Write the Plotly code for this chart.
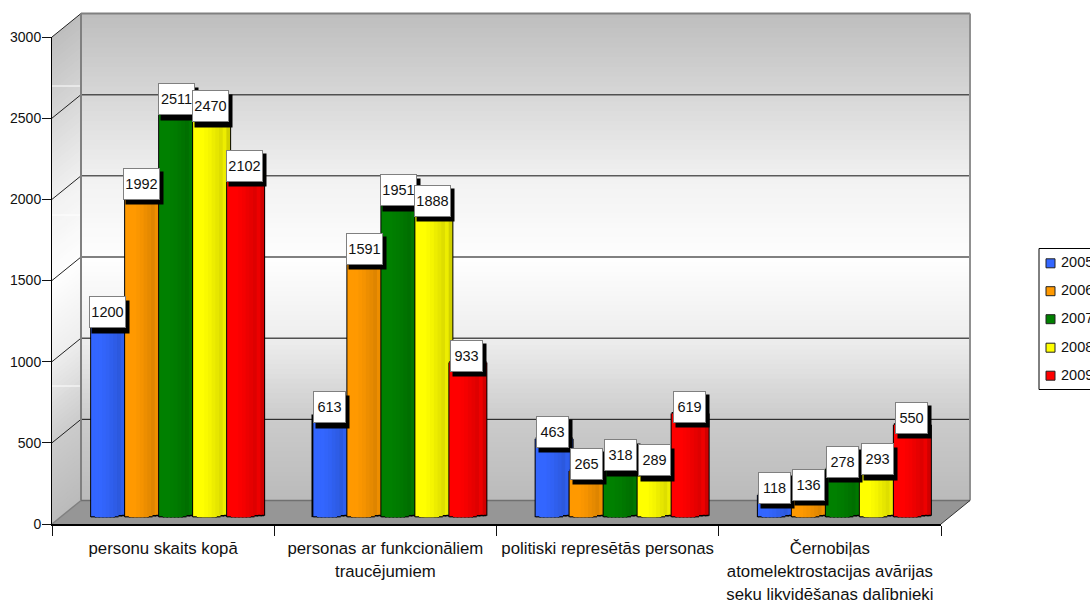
import plotly.graph_objects as go

categories = ["personu skaits kopā",
              "personas ar funkcionāliem<br>traucējumiem",
              "politiski represētās personas",
              "Černobiļas<br>atomelektrostacijas avārijas<br>seku likvidēšanas dalībnieki"]
years = ["2005", "2006", "2007", "2008", "2009"]
v2005 = [1200, 613, 463, 118]
v2006 = [1992, 1591, 265, 136]
v2007 = [2511, 1951, 318, 278]
v2008 = [2470, 1888, 289, 293]
v2009 = [2102, 933, 619, 550]
series = [v2005, v2006, v2007, v2008, v2009]
colors = [(51, 102, 255), (255, 153, 0), (0, 128, 0), (255, 255, 0), (255, 0, 0)]
y_ticks = [0, 500, 1000, 1500, 2000, 2500, 3000]
grid_colors = {500: ("#111111", 1), 1000: ("#505050", 1.5), 1500: ("#808080", 2),
               2000: ("#111111", 1), 2500: ("#505050", 1.5), 3000: ("#808080", 2)}

W, H = 1090, 603
X0, X1, Y0, Y1 = 52, 941, 524, 37      # front plane
DX, DY = 29, -23.5                      # depth of the box
BX, BY = 14.5, -6.5                     # plane of the columns
PX = (Y0 - Y1) / 3000                   # pixels per unit
CAT = (X1 - X0) / 4                     # pixels per category
BAR = 37.0                              # column width, pixels
PITCH = 34.0                            # distance between columns, pixels


def px(x):
    return x / W


def py(y):
    return 1 - y / H


def ramp(t):
    stops = [(0, 190), (0.17, 216), (0.34, 242), (0.5, 254), (0.66, 238), (0.83, 203), (1, 186)]
    for (a, ca), (b, cb) in zip(stops, stops[1:]):
        if t <= b:
            v = round(ca + (cb - ca) * (t - a) / (b - a))
            return f"rgb({v},{v},{v})"
    return "rgb(186,186,186)"


shapes = []


def path(points, **kw):
    d = "M " + " L ".join(f"{px(a):.5f},{py(b):.5f}" for a, b in points) + " Z"
    shapes.append(dict(type="path", path=d, xref="paper", yref="paper", layer="below", **kw))


def seg(a, b, c, d, color, width):
    shapes.append(dict(type="line", x0=px(a), y0=py(b), x1=px(c), y1=py(d), xref="paper", yref="paper",
                       layer="below", line=dict(color=color, width=width)))


# gradient walls
BANDS = 100
for i in range(BANDS):
    t0, t1 = i / BANDS, (i + 1.4) / BANDS
    c = ramp(i / BANDS)
    top, bot = Y1 + DY + t0 * (Y0 - Y1), Y1 + DY + min(t1, 1) * (Y0 - Y1)
    path([(X0 + DX, top), (X1 + DX, top), (X1 + DX, bot), (X0 + DX, bot)], fillcolor=c, line=dict(width=0))
    path([(X0, Y1 + t0 * (Y0 - Y1)), (X0 + DX, top), (X0 + DX, bot), (X0, Y1 + min(t1, 1) * (Y0 - Y1))],
         fillcolor=c, line=dict(width=0))
# floor
path([(X0, Y0), (X1, Y0), (X1 + DX, Y0 + DY), (X0 + DX, Y0 + DY)], fillcolor="#969696", line=dict(width=0))
# grid
for t in y_ticks[1:]:
    yy = Y0 - t * PX
    col, wid = grid_colors[t]
    seg(X0, yy, X0 + DX, yy + DY, "#222222", 1)
    seg(X0 + DX, yy + DY, X1 + DX, yy + DY, col, wid)
for yy in (86, 215, 386):
    seg(X0, yy, X0 + DX, yy, "#ffffff", 1)
# box edges
seg(X1 + DX, Y1 + DY, X1 + DX, Y0 + DY, "#909090", 2)
seg(X0 + DX, Y1 + DY, X0 + DX, Y0 + DY, "#808080", 2)
seg(X0 + DX, Y0 + DY, X1 + DX, Y0 + DY, "#707070", 1.5)
seg(X0, Y0, X0 + DX, Y0 + DY, "#808080", 1.5)
seg(X1, Y0, X1 + DX, Y0 + DY, "#333333", 1)

fig = go.Figure()
# front axes, they carry ticks and labels
styled = ["<br>".join(f'<span style="font-size:16.8px">{p}</span>' for p in c.split("<br>")) for c in categories]
fig.add_trace(go.Scatter(x=categories, y=[0, 0, 0, 0], mode="markers", marker=dict(opacity=0),
                         showlegend=False, hoverinfo="skip", xaxis="x", yaxis="y"))

# columns, each one built from vertical strips for the cylinder shading
shade = [1.0, 1.0, 1.0, 0.98, 0.96, 0.93, 0.9, 0.87, 0.93, 0.82]
bottom = [1.2, 0.2, 0, 0, 0, 0.3, 1.2, 2.4, 2.8, 2.8]
capped = [3.5, 5, 6, 6.5, 6.5, 6.5, 6.5, 6, 5, 3.5]
N = len(shade)
sw = BAR / CAT / N


def strip_width(j):
    return sw * 1.4 if j < N - 1 else sw


for k, (year, vals) in enumerate(zip(years, series)):
    c0 = (k - 2) * PITCH / CAT - BAR / CAT / 2
    rgb = colors[k]
    for j in range(N):
        base = [(bottom[j] - 1.5) / PX] * 4
        tops = [v + (capped[j] + 1.5) / PX - (bottom[j] - 1.5) / PX for v in vals]
        fig.add_trace(go.Bar(x=categories, y=tops, base=base, width=strip_width(j), offset=c0 + j * sw,
                             marker=dict(color="#000000", line=dict(width=0)), showlegend=False,
                             hoverinfo="skip", xaxis="x2", yaxis="y2"))
    # side outline
    for j in (0, N - 1):
        tops = [v + capped[j] / PX - (bottom[j] - 1) / PX for v in vals]
        fig.add_trace(go.Bar(x=categories, y=tops, base=[(bottom[j] - 1) / PX] * 4, width=2 / CAT,
                             offset=c0 + (-1 / CAT if j == 0 else BAR / CAT - 1 / CAT),
                             marker=dict(color="#000000", line=dict(width=0)), showlegend=False,
                             hoverinfo="skip", xaxis="x2", yaxis="y2"))
    for j in range(N):
        col = "rgb(%d,%d,%d)" % tuple(round(a * shade[j]) for a in rgb)
        base = [bottom[j] / PX] * 4
        tops = [v + capped[j] / PX - bottom[j] / PX for v in vals]
        fig.add_trace(go.Bar(x=categories, y=tops, base=base, width=strip_width(j), offset=c0 + j * sw,
                             marker=dict(color=col, line=dict(width=0)), showlegend=False, name=year,
                             hovertemplate=f"{year}: %{{customdata}}<extra></extra>", customdata=vals,
                             xaxis="x2", yaxis="y2"))

# value labels with their black drop shadow
annotations = []
for k, vals in enumerate(series):
    for cat, v in zip(categories, vals):
        w = 37 if v >= 1000 else 33
        xs = (k - 2) * 34.2 - 1.5
        annotations.append(dict(x=cat, y=v, xref="x2", yref="y", showarrow=False, width=w, height=32, borderpad=0,
                                text=" ", bgcolor="#000000", xshift=xs + 3, yshift=17 - 4.5,
                                font=dict(family="Liberation Sans", size=14, color="#111111")))
for k, vals in enumerate(series):
    for cat, v in zip(categories, vals):
        w = 35 if v >= 1000 else 31
        xs = (k - 2) * 34.2 - 1.5
        annotations.append(dict(x=cat, y=v, xref="x2", yref="y", showarrow=False, width=w, height=30, borderpad=0,
                                align="center", valign="middle", text=str(v), bgcolor="#ffffff",
                                bordercolor="#808080", borderwidth=1, xshift=xs, yshift=17,
                                font=dict(family="Liberation Sans", size=14.5, color="#111111")))

# legend box, running past the right edge of the picture
above = []
above.append(dict(type="rect", x0=px(1039), x1=px(1100), y0=py(248.5), y1=py(389.5), xref="paper", yref="paper",
                  fillcolor="#ffffff", line=dict(color="#000000", width=1)))
legend_rows = [263.3, 291.2, 319.2, 347.7, 375.7]
for year, rgb, yy in zip(years, colors, legend_rows):
    above.append(dict(type="rect", x0=px(1046), x1=px(1055), y0=py(yy - 4.5), y1=py(yy + 4.5), xref="paper",
                      yref="paper", fillcolor="rgb(%d,%d,%d)" % rgb, line=dict(color="#222222", width=1)))
    annotations.append(dict(x=px(1058.5), y=py(yy - 1), xref="paper", yref="paper", xanchor="left", yanchor="middle",
                            text=year, showarrow=False, font=dict(family="Liberation Sans", size=14.5, color="#111111")))

fig.update_layout(
    width=W, height=H, margin=dict(l=0, r=0, t=0, b=0, autoexpand=False),
    paper_bgcolor="#ffffff", plot_bgcolor="rgba(0,0,0,0)", showlegend=False,
    barmode="overlay", shapes=shapes + above, annotations=annotations,
    font=dict(family="Liberation Sans", color="#111111"),
    xaxis=dict(domain=[px(X0), px(X1)], type="category", categoryorder="array", categoryarray=categories,
               range=[-0.5, 3.5], tickmode="array", tickvals=categories, ticktext=styled, tickson="boundaries",
               ticks="outside", ticklen=10, tickcolor="#111111", tickwidth=1, tickangle=0, showgrid=False,
               showline=True, linecolor="#000000", linewidth=2, tickfont=dict(size=18, color="#111111"),
               ticklabelstandoff=6, anchor="y", zeroline=False, fixedrange=True),
    yaxis=dict(domain=[py(Y0), py(Y1)], range=[0, 3000], tickvals=y_ticks, ticks="outside", ticklen=9,
               ticklabelstandoff=-2, tickcolor="#111111", tickwidth=1, showgrid=False, showline=True,
               linecolor="#000000", linewidth=1, tickfont=dict(size=14, color="#111111"), zeroline=False,
               anchor="x", fixedrange=True),
    xaxis2=dict(domain=[px(X0 + BX), px(X1 + BX)], type="category", categoryorder="array",
                categoryarray=categories, range=[-0.5, 3.5], visible=False, anchor="y2", fixedrange=True),
    yaxis2=dict(domain=[py(Y0 + BY), py(Y1 + BY)], range=[0, 3000], visible=False, anchor="x2", fixedrange=True),
)
fig.write_html("out.html", config=dict(displayModeBar=False), post_script="document.body.style.margin='0';")
